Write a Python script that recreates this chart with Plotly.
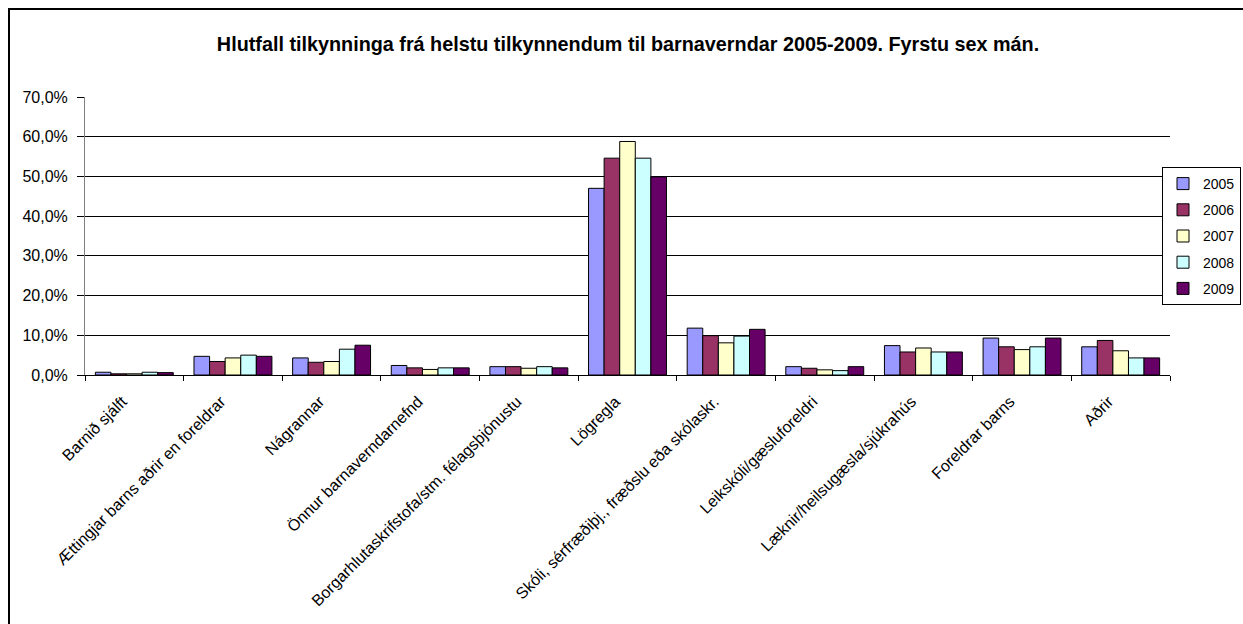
import plotly.graph_objects as go

categories = [
    "Barnið sjálft",
    "Ættingjar barns aðrir en foreldrar",
    "Nágrannar",
    "Önnur barnaverndarnefnd",
    "Borgarhlutaskrifstofa/stm. félagsþjónustu",
    "Lögregla",
    "Skóli, sérfræðiþj., fræðslu eða skólaskr.",
    "Leikskóli/gæsluforeldri",
    "Læknir/heilsugæsla/sjúkrahús",
    "Foreldrar barns",
    "Aðrir",
]

years = ["2005", "2006", "2007", "2008", "2009"]

v2005 = [0.007, 0.047, 0.043, 0.024, 0.021, 0.470, 0.118, 0.021, 0.074, 0.093, 0.071]
v2006 = [0.003, 0.034, 0.032, 0.018, 0.021, 0.546, 0.099, 0.017, 0.058, 0.071, 0.087]
v2007 = [0.003, 0.043, 0.034, 0.014, 0.017, 0.588, 0.081, 0.013, 0.068, 0.064, 0.061]
v2008 = [0.007, 0.050, 0.065, 0.018, 0.021, 0.546, 0.098, 0.011, 0.058, 0.071, 0.043]
v2009 = [0.006, 0.047, 0.075, 0.018, 0.018, 0.499, 0.115, 0.021, 0.058, 0.093, 0.043]

series = [v2005, v2006, v2007, v2008, v2009]
colors = ["#9999FF", "#993366", "#FFFFCC", "#CCFFFF", "#660066"]

W, H = 1243, 624
L, T, R, B = 85, 97, 73, 249
pw, ph = W - L - R, H - T - B

fig = go.Figure()
for name, vals, col in zip(years, series, colors):
    fig.add_trace(go.Bar(
        x=categories, y=vals, name=name, legendgroup=name,
        marker=dict(color=col, line=dict(color="black", width=1)),
    ))

fig.update_layout(
    width=W, height=H,
    margin=dict(l=L, r=R, t=T, b=B, autoexpand=False),
    paper_bgcolor="white", plot_bgcolor="white",
    font=dict(family="Liberation Sans, Arial, sans-serif", size=15, color="black"),
    separators=", ",
    barmode="group", bargap=0.21, bargroupgap=0,
    title=dict(
        text="<b>Hlutfall tilkynninga frá helstu tilkynnendum til barnaverndar 2005-2009. Fyrstu sex mán.</b>",
        x=(628 - L) / pw, xref="paper", xanchor="center",
        y=1 - 44 / H, yref="container", yanchor="middle",
        font=dict(size=19.8, color="black"),
    ),
    legend=dict(
        x=(1241 - L) / pw, xanchor="right", y=0.5, yanchor="middle",
        bordercolor="black", borderwidth=1, bgcolor="white",
        font=dict(size=14), tracegroupgap=5, itemwidth=30,
    ),
    showlegend=True,
)

fig.update_yaxes(
    range=[0, 0.70], dtick=0.10, tickformat=".1%",
    showgrid=True, gridcolor="black", gridwidth=1,
    showline=True, linecolor="#808080", linewidth=1,
    ticks="outside", ticklen=7, tickcolor="black",
    ticklabelstandoff=6,
    zeroline=False, tickfont=dict(size=16),
)
fig.update_xaxes(
    tickangle=-45, tickson="boundaries",
    showline=True, linecolor="black", linewidth=1,
    ticks="outside", ticklen=5, tickcolor="black",
    ticklabelshift=-12, ticklabelstandoff=10,
    tickfont=dict(size=16),
)

# chart border (runs past the bottom/right edge as in the reference)
fig.add_shape(type="rect", xref="paper", yref="paper",
              x0=(9 - L) / pw, x1=1.3, y0=-1.3, y1=1 + (T - 9) / ph,
              line=dict(color="black", width=2), fillcolor="rgba(0,0,0,0)", layer="below")

# drop the default page margin so the 1243x624 figure fills the window
fig.write_html("out.html", config={"displayModeBar": False},
               post_script="document.body.style.margin='0';")
